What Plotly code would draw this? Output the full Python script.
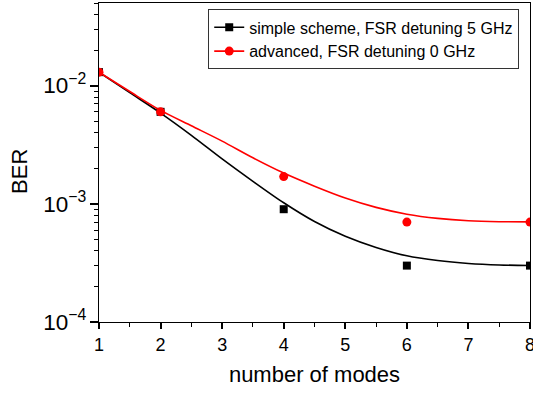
import plotly.graph_objects as go
import math

# data points
x_pts = [1, 2, 4, 6, 8]
simple_ber = [0.013, 0.006, 9e-4, 3e-4, 3e-4]
advanced_ber = [0.013, 0.006, 1.7e-3, 7e-4, 7e-4]

# fitted curves
x_fit = [1, 1.5, 2, 2.5, 3, 3.5, 4, 4.5, 5, 5.5, 6, 6.5, 7, 7.5, 8]
simple_fit = [0.01297, 8.71e-3, 5.86e-3, 3.80e-3, 2.40e-3, 1.55e-3, 1.02e-3, 7.08e-4,
              5.31e-4, 4.27e-4, 3.63e-4, 3.31e-4, 3.13e-4, 3.04e-4, 3.01e-4]
advanced_fit = [0.01297, 8.91e-3, 6.17e-3, 4.57e-3, 3.39e-3, 2.45e-3, 1.82e-3, 1.41e-3,
                1.12e-3, 9.33e-4, 8.17e-4, 7.53e-4, 7.19e-4, 7.06e-4, 7.03e-4]

names = ["simple scheme, FSR detuning 5 GHz", "advanced, FSR detuning 0 GHz"]
colors = ["black", "#ff0000"]
symbols = ["square", "circle"]
msizes = [8, 9]
y_title = "BER"
x_title = "number of modes"

FONT = "Arial, Liberation Sans, sans-serif"

fig = go.Figure()
for name, col, sym, ms, pts, fit in zip(names, colors, symbols, msizes,
                                        [simple_ber, advanced_ber],
                                        [simple_fit, advanced_fit]):
    fig.add_trace(go.Scatter(x=x_fit, y=fit, mode="lines",
                             line=dict(color=col, width=1.6, shape="spline", smoothing=0.8),
                             showlegend=False, hoverinfo="skip"))
    fig.add_trace(go.Scatter(x=x_pts, y=pts, mode="markers",
                             marker=dict(color=col, symbol=sym, size=ms, line=dict(width=0)),
                             showlegend=False))
    fig.add_trace(go.Scatter(x=[None], y=[None], mode="lines+markers", name=name,
                             line=dict(color=col, width=1.6),
                             marker=dict(color=col, symbol=sym, size=ms)))

fig.update_layout(
    width=533, height=394,
    margin=dict(l=99, r=3, t=3, b=72),
    paper_bgcolor="white", plot_bgcolor="white",
    font=dict(family=FONT, color="black", size=18),
    legend=dict(x=0.975, y=0.98, xanchor="right", yanchor="top",
                bgcolor="white", bordercolor="#333333", borderwidth=1,
                font=dict(size=16, family=FONT), tracegroupgap=0,
                itemwidth=30),
    annotations=[dict(text=y_title, textangle=-90, xref="paper", yref="paper",
                      x=-0.186, y=0.473, xanchor="center", yanchor="middle",
                      showarrow=False, font=dict(size=22, family=FONT, color="black"))],
)
fig.update_xaxes(range=[1, 8], tickmode="linear", tick0=1, dtick=1,
                 showline=True, linecolor="black", linewidth=1.3,
                 mirror=True, ticks="outside", ticklen=6, tickwidth=1.5, tickcolor="#000000",
                 minor=dict(ticks="outside", ticklen=4, tick0=1, dtick=0.5, tickcolor="#000000", tickwidth=1.3),
                 showgrid=False, zeroline=False, ticklabeloverflow="allow", automargin=False,
                 tickfont=dict(size=18),
                 title=dict(text=x_title, font=dict(size=22), standoff=12))
fig.update_yaxes(type="log", range=[-4, math.log10(0.05)], dtick=1,
                 exponentformat="power", showexponent="all",
                 showline=True, linecolor="black", linewidth=1.3, mirror=True,
                 ticks="outside", ticklen=8, tickwidth=1.5, tickcolor="#000000",
                 minor=dict(ticks="outside", ticklen=4, dtick="D1", tickcolor="#000000", tickwidth=1.3),
                 showgrid=False, zeroline=False, ticklabeloverflow="allow", automargin=False,
                 tickfont=dict(size=18))

fig.write_html("out.html")
